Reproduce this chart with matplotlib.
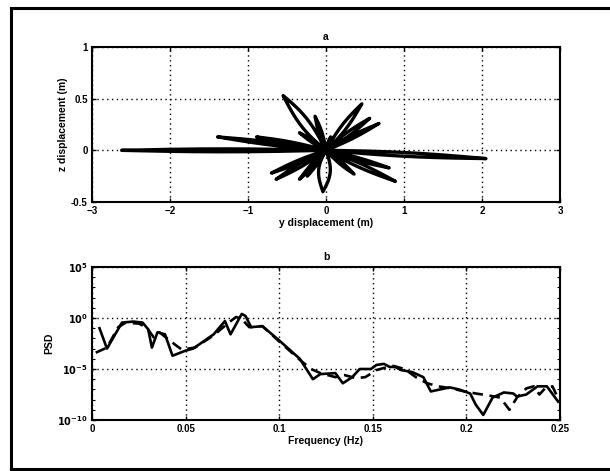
import numpy as np
import matplotlib.pyplot as plt
from matplotlib.lines import Line2D
from matplotlib.ticker import LogLocator, NullFormatter

plt.rcParams['font.family'] = ['Liberation Sans', 'DejaVu Sans']
plt.rcParams['font.weight'] = 'bold'

# excursion lobes of the buoy track: tip y, tip z, half width (m)
lobe_y = [-2.62, 2.05, -1.39, -0.89, -0.55, -0.14, -0.34, 0.46, 0.56, 0.68, 0.06,
          -0.04, -0.70, -0.64, -0.34, -0.24, 0.89, 0.81, 0.36, 0.20]
lobe_z = [0.0, -0.08, 0.13, 0.13, 0.53, 0.33, 0.17, 0.45, 0.31, 0.26, 0.13,
          -0.40, -0.22, -0.28, -0.28, -0.25, -0.30, -0.17, -0.23, -0.12]
lobe_w = [0.014, 0.018, 0.015, 0.015, 0.05, 0.02, 0.012, 0.03, 0.02, 0.015, 0.01,
          0.075, 0.015, 0.018, 0.015, 0.012, 0.02, 0.015, 0.015, 0.01]

# spectra
f_solid = [0.004, 0.008, 0.016, 0.022, 0.027, 0.030, 0.032, 0.035, 0.039, 0.043, 0.050,
           0.054, 0.065, 0.071, 0.074, 0.080, 0.082, 0.085, 0.091, 0.100, 0.111, 0.118,
           0.122, 0.130, 0.134, 0.139, 0.143, 0.149, 0.152, 0.156, 0.159, 0.162, 0.165,
           0.171, 0.177, 0.181, 0.186, 0.191, 0.196, 0.202, 0.205, 0.209, 0.214, 0.220,
           0.225, 0.227, 0.232, 0.238, 0.243, 0.249]
lg_solid = [-1.0, -3.0, -0.45, -0.35, -0.45, -1.1, -2.9, -1.4, -1.6, -3.7, -3.2,
            -3.0, -1.6, -0.3, -1.6, 0.4, 0.2, -0.9, -0.8, -2.2, -4.0, -6.0,
            -5.5, -5.4, -6.4, -5.8, -5.0, -5.0, -4.6, -4.5, -4.8, -4.8, -5.1,
            -5.3, -5.8, -7.2, -7.0, -6.8, -7.0, -7.4, -8.5, -9.5, -7.8, -7.3,
            -7.4, -7.7, -7.5, -6.7, -6.7, -8.2]
f_dash = [0.002, 0.008, 0.014, 0.018, 0.025, 0.029, 0.033, 0.036, 0.045, 0.048,
          0.055, 0.065, 0.073, 0.077, 0.080, 0.084, 0.091, 0.100, 0.111, 0.117,
          0.122, 0.130, 0.135, 0.141, 0.146, 0.152, 0.156, 0.161, 0.167, 0.173,
          0.179, 0.185, 0.192, 0.199, 0.205, 0.212, 0.218, 0.223, 0.227, 0.232,
          0.236, 0.239, 0.242, 0.246, 0.249]
lg_dash = [-3.4, -2.9, -0.9, -0.45, -0.55, -0.9, -1.9, -1.4, -2.7, -3.1,
           -2.9, -1.7, -0.45, 0.1, -0.1, -0.9, -0.8, -2.3, -4.1, -5.0,
           -5.4, -5.8, -5.6, -5.9, -5.8, -5.1, -4.9, -4.7, -5.0, -5.8,
           -6.4, -6.7, -6.9, -7.2, -7.4, -7.6, -7.8, -9.0, -7.8, -6.9,
           -6.7, -7.5, -6.9, -6.7, -7.9]

fig = plt.figure(figsize=(6.10, 4.71), dpi=100)

# border frame of the panel
for xs, ys in [([0.018, 0.018], [0.004, 0.983]), ([0.018, 1.0], [0.983, 0.983]),
               ([0.018, 1.0], [0.004, 0.004])]:
    fig.add_artist(Line2D(xs, ys, color='black', lw=2.2, transform=fig.transFigure))

W, H = 610, 471
ax1 = fig.add_axes([92 / W, 1 - 202 / H, (560 - 92) / W, (202 - 47) / H])
ax2 = fig.add_axes([92 / W, 1 - 420 / H, (560 - 92) / W, (420 - 267) / H])

# build the trajectory as a chain of loops out of the origin
ty, tz = [], []
s = np.linspace(0, 1, 40)
for y0, z0, w in zip(lobe_y, lobe_z, lobe_w):
    L = np.hypot(y0, z0)
    ny, nz = -z0 / L, y0 / L
    bump = w * np.sin(np.pi * s)
    ty += list(s * y0 + bump * ny) + list((s * y0 - bump * ny)[::-1])
    tz += list(s * z0 + bump * nz) + list((s * z0 - bump * nz)[::-1])
ax1.plot(ty, tz, color='black', lw=2.4, solid_joinstyle='round')

ax1.set_xlim(-3, 3)
ax1.set_ylim(-0.5, 1)
ax1.set_xticks([-3, -2, -1, 0, 1, 2, 3])
ax1.set_yticks([-0.5, 0, 0.5, 1])
ax1.set_yticklabels(['-0.5', '0', '0.5', '1'])
ax1.set_xlabel('y displacement (m)', fontsize=7.5, fontweight='bold', labelpad=1)
ax1.set_ylabel('z displacement (m)', fontsize=7.5, fontweight='bold', labelpad=2)
ax1.set_title('a', fontsize=7.5, fontweight='bold', pad=5)

ax2.semilogy(f_solid, 10.0 ** np.array(lg_solid), color='black', lw=1.9)
ax2.semilogy(f_dash, 10.0 ** np.array(lg_dash), color='black', lw=1.9,
             ls=(0, (4, 2.5)))
ax2.set_xlim(0, 0.25)
ax2.set_ylim(1e-10, 1e5)
ax2.set_xticks([0, 0.05, 0.1, 0.15, 0.2, 0.25])
ax2.set_xticklabels(['0', '0.05', '0.1', '0.15', '0.2', '0.25'])
ax2.set_yticks([1e-10, 1e-5, 1e0, 1e5])
ax2.set_yticklabels([r'$\mathbf{10^{-10}}$', r'$\mathbf{10^{-5}}$',
                     r'$\mathbf{10^{0}}$', r'$\mathbf{10^{5}}$'])
ax2.yaxis.set_minor_locator(LogLocator(base=10, subs=[1.0], numticks=20))
ax2.yaxis.set_minor_formatter(NullFormatter())
ax2.set_xlabel('Frequency (Hz)', fontsize=7.5, fontweight='bold', labelpad=1)
ax2.set_ylabel('PSD', fontsize=7.5, fontweight='bold', labelpad=2)
ax2.set_title('b', fontsize=7.5, fontweight='bold', pad=5)

for ax in (ax1, ax2):
    ax.grid(True, color='black', ls=(0, (1, 2.5)), lw=1.0)
    ax.tick_params(direction='in', length=3, width=1, labelsize=7, pad=3,
                   top=True, right=True)
    ax.tick_params(which='minor', direction='in', length=2, width=0.8,
                   left=True, right=True)
    for sp in ax.spines.values():
        sp.set_linewidth(1.5)

fig.savefig('out.png', dpi=100)
